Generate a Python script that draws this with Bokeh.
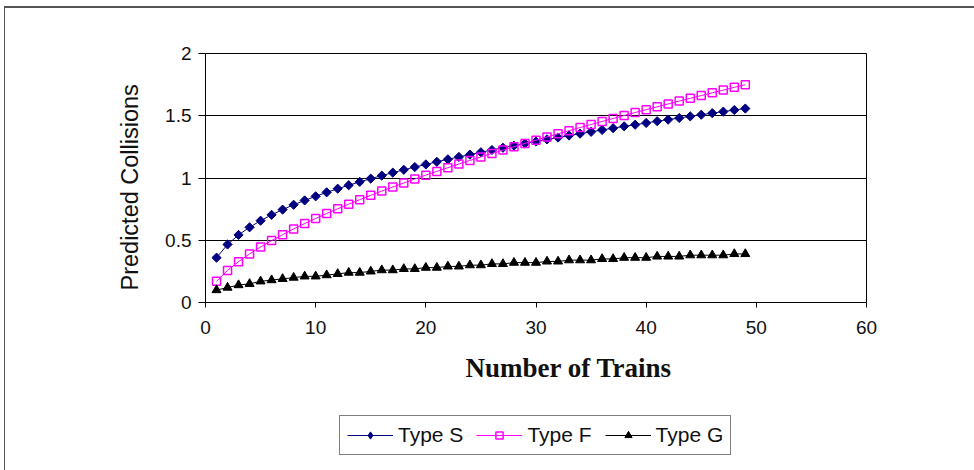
from bokeh.plotting import figure
from bokeh.models import (Range1d, FixedTicker, NumeralTickFormatter, Legend,
                          LegendItem, Title, Column)
from bokeh.embed import file_html
from bokeh.resources import INLINE

trains = list(range(1, 50))
type_s = [0.360, 0.466, 0.543, 0.604, 0.657, 0.704, 0.746, 0.785, 0.820, 0.853,
          0.885, 0.914, 0.942, 0.969, 0.995, 1.019, 1.043, 1.066, 1.088, 1.109,
          1.130, 1.150, 1.169, 1.188, 1.207, 1.225, 1.243, 1.260, 1.277, 1.293,
          1.310, 1.325, 1.341, 1.356, 1.371, 1.386, 1.400, 1.415, 1.428, 1.442,
          1.456, 1.469, 1.482, 1.495, 1.508, 1.521, 1.533, 1.546, 1.558]
type_f = [0.170, 0.258, 0.328, 0.390, 0.446, 0.497, 0.545, 0.591, 0.634, 0.675,
          0.715, 0.753, 0.790, 0.826, 0.861, 0.895, 0.928, 0.960, 0.992, 1.023,
          1.053, 1.083, 1.112, 1.141, 1.169, 1.197, 1.224, 1.251, 1.278, 1.304,
          1.330, 1.355, 1.380, 1.405, 1.430, 1.454, 1.478, 1.502, 1.526, 1.549,
          1.572, 1.595, 1.618, 1.640, 1.662, 1.684, 1.706, 1.728, 1.749]
type_g = [0.10, 0.12, 0.14, 0.15, 0.17, 0.18, 0.19, 0.20, 0.21, 0.21,
          0.22, 0.23, 0.24, 0.24, 0.25, 0.26, 0.26, 0.27, 0.27, 0.28,
          0.28, 0.29, 0.29, 0.30, 0.30, 0.31, 0.31, 0.32, 0.32, 0.32,
          0.33, 0.33, 0.34, 0.34, 0.34, 0.35, 0.35, 0.36, 0.36, 0.36,
          0.37, 0.37, 0.37, 0.38, 0.38, 0.38, 0.38, 0.39, 0.39]
series_names = ["Type S", "Type F", "Type G"]
x_ticks = [0, 10, 20, 30, 40, 50, 60]
y_ticks = [0, 0.5, 1, 1.5, 2]
x_title = "Number of Trains"
y_title = "Predicted Collisions"

S_COLOR, F_COLOR, G_COLOR = "#000080", "#FF00FF", "black"

W = 969
H1, H2 = 400, 62
p = figure(width=W, height=H1, output_backend="svg", toolbar_location=None,
           x_range=Range1d(0, 60), y_range=Range1d(0, 2),
           min_border_left=200, min_border_right=108, min_border_top=45,
           min_border_bottom=106)

p.outline_line_color = "black"
p.outline_line_width = 1
p.xgrid.grid_line_color = None
p.ygrid.grid_line_color = "black"
p.ygrid.grid_line_width = 1
p.ygrid.ticker = FixedTicker(ticks=y_ticks)

p.xaxis.ticker = FixedTicker(ticks=x_ticks)
p.yaxis.ticker = FixedTicker(ticks=y_ticks)
p.yaxis.formatter = NumeralTickFormatter(format="0[.]0")
for ax in (p.xaxis, p.yaxis):
    ax.axis_line_color = "black"
    ax.major_tick_line_color = "black"
    ax.major_tick_in = 0
    ax.minor_tick_line_color = None
    ax.major_label_text_font = "Liberation Sans"
    ax.major_label_text_font_size = "19px"
    ax.major_label_text_color = "#111111"
p.xaxis.major_tick_out = 5
p.yaxis.major_tick_out = 7
p.xaxis.major_label_standoff = 13
p.yaxis.major_label_standoff = 7


def add_series(fig, xs, ys, s_marker="square", s_angle=0.785398, s_size=6.5):
    l1 = fig.line(xs, ys[0], line_color=S_COLOR, line_width=1)
    m1 = fig.scatter(xs, ys[0], marker=s_marker, angle=s_angle, size=s_size,
                     fill_color=S_COLOR, line_color=S_COLOR)
    l2 = fig.line(xs, ys[1], line_color=F_COLOR, line_width=1)
    m2 = fig.scatter(xs, ys[1], marker="square", size=8, fill_color=None,
                     line_color=F_COLOR, line_width=1.5)
    l3 = fig.line(xs, ys[2], line_color=G_COLOR, line_width=1)
    m3 = fig.scatter(xs, ys[2], marker="triangle", size=9, fill_color=G_COLOR,
                     line_color=G_COLOR)
    return [[l1, m1], [l2, m2], [l3, m3]]


add_series(p, trains, [type_s, type_f, type_g])

yt = Title(text=y_title, align="left", offset=12, text_font="Liberation Sans",
           text_font_size="23.5px", text_font_style="normal",
           text_color="#111111", standoff=40)
p.add_layout(yt, "left")

t = Title(text=x_title, align="left", offset=260, text_font="Liberation Serif",
          text_font_size="27px", text_font_style="bold", text_color="#111111",
          standoff=29)
p.add_layout(t, "below")

# legend strip below the chart (its own renderers sit outside its view)
q = figure(width=W, height=H2, output_backend="svg", toolbar_location=None,
           x_range=Range1d(100, 101), y_range=Range1d(100, 101),
           min_border_left=0, min_border_right=0, min_border_top=0,
           min_border_bottom=0)
q.axis.visible = False
q.grid.grid_line_color = None
q.outline_line_color = None
groups = add_series(q, trains, [type_s, type_f, type_g],
                    s_marker="diamond", s_angle=0.0, s_size=11)
legend = Legend(items=[LegendItem(label=n, renderers=g)
                       for n, g in zip(series_names, groups)],
                orientation="horizontal", location=(134, 15),
                border_line_color="black", border_line_width=1,
                label_text_font="Liberation Sans", label_text_font_size="21px",
                label_text_color="#111111",
                glyph_width=46, glyph_height=18, label_standoff=5, spacing=13,
                padding=7, margin=0)
q.add_layout(legend, "center")

layout = Column(children=[p, q], spacing=0,
                stylesheets=[":host { margin-left: 4px; margin-top: 6px; "
                             "border-top: 2px solid #555555; "
                             "border-left: 1px solid #555555; }"])

open("out.html", "w").write(file_html(layout, INLINE))
